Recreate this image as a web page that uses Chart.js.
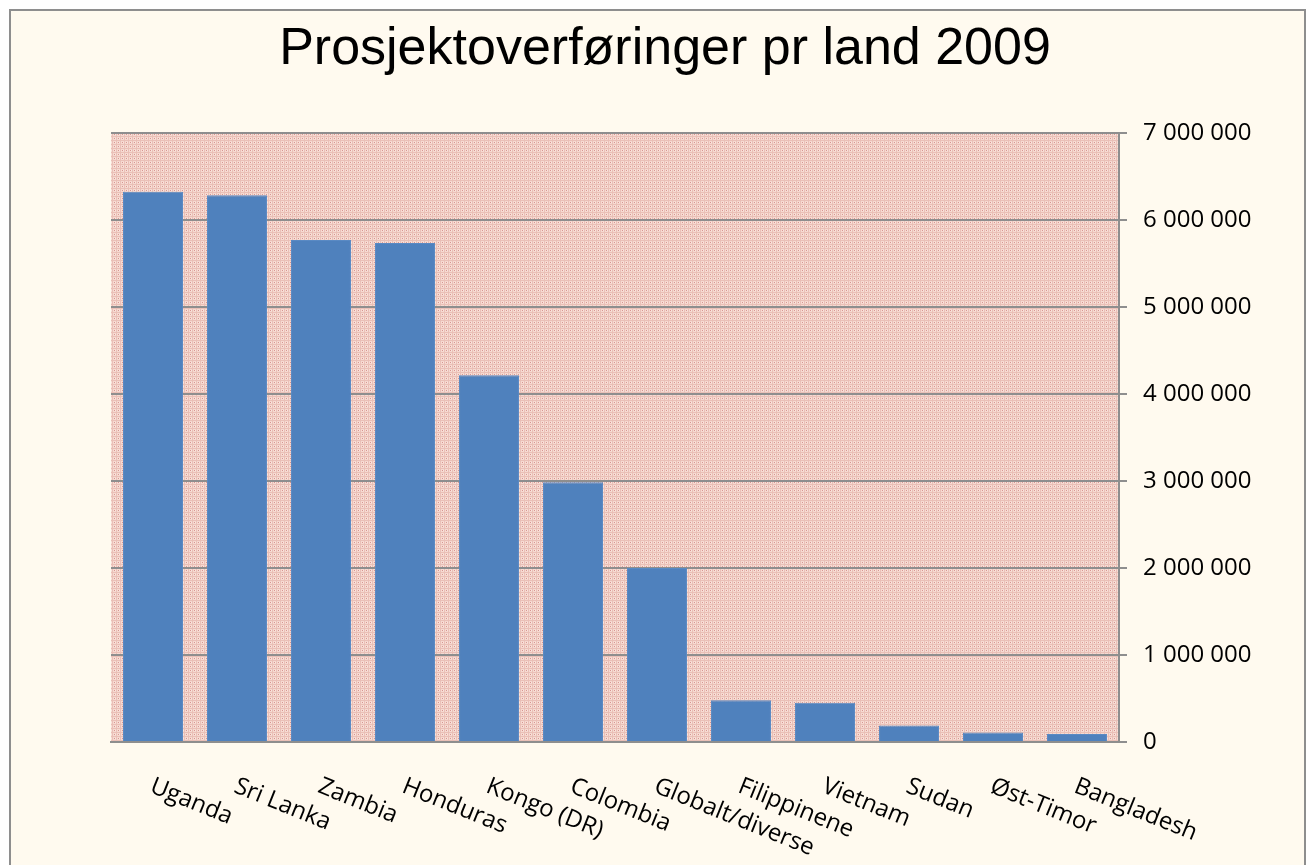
<!DOCTYPE html>
<html><head><meta charset="utf-8">
<script src="https://cdn.jsdelivr.net/npm/chart.js@4.4.0/dist/chart.umd.min.js"></script>
<style>html,body{margin:0;padding:0;background:#fff;overflow:hidden}#wrap{width:1311px;height:865px;position:relative}</style>
</head><body><div id="wrap"><canvas id="c"></canvas></div>
<script>
const chartTitle = "Prosjektoverføringer pr land 2009";
const categories = ["Uganda","Sri Lanka","Zambia","Honduras","Kongo (DR)","Colombia","Globalt/diverse","Filippinene","Vietnam","Sudan","Øst-Timor","Bangladesh"];
const transfers = [6326000, 6285000, 5770000, 5735000, 4215000, 2985000, 2000000, 480000, 450000, 190000, 110000, 92000];
const yTickValues = [0, 1000000, 2000000, 3000000, 4000000, 5000000, 6000000, 7000000];

function fmt(v){ return String(v).replace(/\B(?=(\d{3})+(?!\d))/g, ' '); }

function makePattern(ctx){
  const t = document.createElement('canvas'); t.width = 4; t.height = 4;
  const g = t.getContext('2d');
  g.fillStyle = '#F6DAD1'; g.fillRect(0,0,4,4);
  g.fillStyle = '#EAC0B7'; g.fillRect(0,0,4,1); g.fillRect(0,0,1,4);
  g.fillStyle = '#F9E5DE'; g.fillRect(2,2,2,1);
  g.fillStyle = '#D99591'; g.fillRect(2,2,1,1);
  return ctx.createPattern(t, 'repeat');
}

const bgPlugin = {
  id: 'bg',
  beforeDraw(chart){
    const ctx = chart.ctx, a = chart.chartArea;
    ctx.save();
    ctx.fillStyle = '#ffffff'; ctx.fillRect(0,0,chart.width,chart.height);
    ctx.fillStyle = '#FFFAEF'; ctx.fillRect(10,10,1295,870);
    ctx.strokeStyle = '#8e8e8e'; ctx.lineWidth = 2; ctx.strokeRect(10,10,1295,870);
    ctx.fillStyle = makePattern(ctx);
    ctx.fillRect(a.left, a.top, a.right - a.left, a.bottom - a.top);
    ctx.fillStyle = '#000';
    ctx.font = '52px "Liberation Sans", Arial, sans-serif';
    ctx.textAlign = 'center'; ctx.textBaseline = 'alphabetic';
    ctx.fillText(chartTitle, 665, 64);
    ctx.restore();
  }
};

const xLabelPlugin = {
  id: 'xlabels',
  afterDraw(chart){
    const ctx = chart.ctx, xs = chart.scales.x, a = chart.chartArea;
    const ang = 22 * Math.PI / 180;
    ctx.save();
    ctx.fillStyle = '#000';
    ctx.font = '24px "Open Sans", sans-serif';
    ctx.textAlign = 'left'; ctx.textBaseline = 'alphabetic';
    const cap = 17;
    chart.data.labels.forEach((lab, i) => {
      const x = xs.getPixelForTick(i) + 2;
      const y = a.bottom + 34;
      const bx = x - cap * Math.sin(ang), by = y + cap * Math.cos(ang);
      ctx.save();
      ctx.translate(bx, by);
      ctx.rotate(ang);
      ctx.fillText(lab, 0, 0);
      ctx.restore();
    });
    ctx.restore();
  }
};

new Chart(document.getElementById('c'), {
  type: 'bar',
  data: {
    labels: categories,
    datasets: [{
      data: transfers,
      backgroundColor: '#4F81BD',
      borderColor: '#5A8AC4',
      borderWidth: 1,
      categoryPercentage: 1,
      barPercentage: 0.714
    }]
  },
  options: {
    responsive: true,
    maintainAspectRatio: false,
    animation: false,
    layout: { padding: { left: 111, top: 133, right: 0, bottom: 123 } },
    plugins: { legend: { display: false }, title: { display: false }, tooltip: { enabled: false } },
    scales: {
      x: {
        ticks: { display: false },
        grid: { display: false, drawTicks: false },
        border: { display: true, color: '#8e8e8e', width: 2 },
        afterFit(s){ s.height = 0; }
      },
      y: {
        position: 'right',
        min: 0, max: 7000000,
        afterBuildTicks(s){ s.ticks = yTickValues.map(v => ({ value: v })); },
        ticks: {
          callback: v => fmt(v),
          color: '#000',
          font: { family: '"Open Sans", sans-serif', size: 24 },
          padding: 16
        },
        grid: { color: '#8e8e8e', lineWidth: 2, tickLength: 8, drawTicks: true },
        border: { display: true, color: '#8e8e8e', width: 2 },
        afterFit(s){ s.width = 1311 - 1119; }
      }
    }
  },
  plugins: [bgPlugin, xLabelPlugin]
});
</script>
</body></html>
